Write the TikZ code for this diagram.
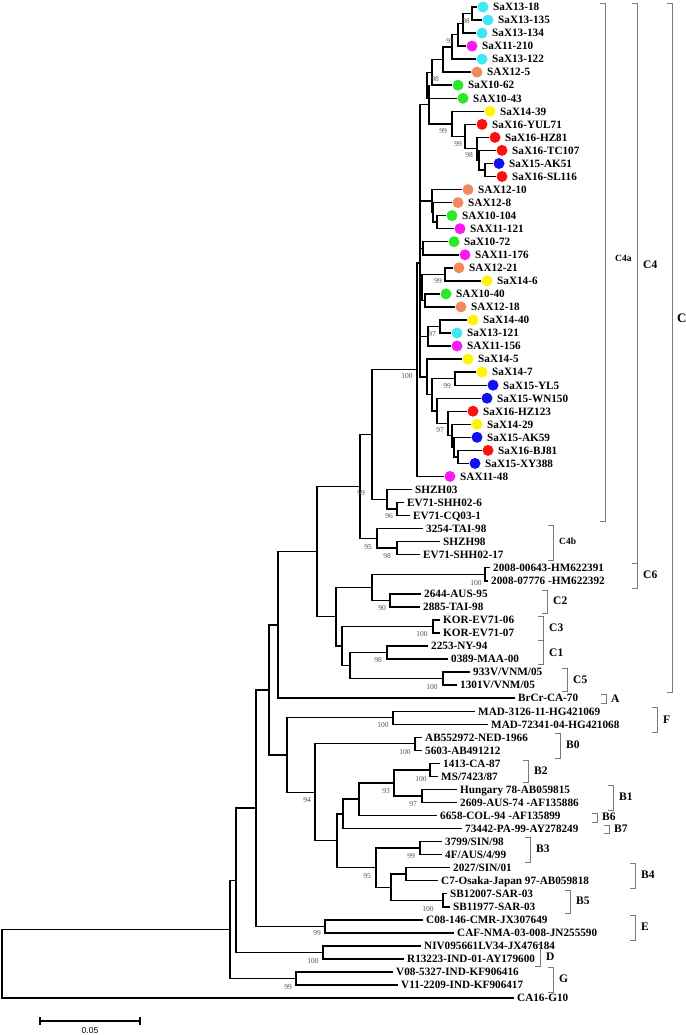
\documentclass[tikz,border=0pt]{standalone}
\usepackage{fontspec}
\setmainfont{Liberation Serif}
\newfontfamily\sbfont{Liberation Sans}
\usetikzlibrary{calc}
\definecolor{cyn}{HTML}{3FE6F5}
\definecolor{mag}{HTML}{F81CF0}
\definecolor{org}{HTML}{F4895F}
\definecolor{grn}{HTML}{2BE82B}
\definecolor{yel}{HTML}{FFF500}
\definecolor{rd}{HTML}{FF1010}
\definecolor{blu}{HTML}{1010F0}
\definecolor{brkgray}{HTML}{7A7A7A}
\definecolor{bsgray}{HTML}{505050}
\tikzset{
  br/.style={line width=1.4pt, black, line join=miter},
  brk/.style={line width=0.9pt, brkgray},
  lab/.style={anchor=base west, inner sep=0pt, yshift=-3.8pt, font=\fontsize{11.2}{13}\selectfont\bfseries},
  boot/.style={inner sep=0pt, font=\fontsize{7.5}{8}\selectfont, text=bsgray},
  leafdot/.style={circle, inner sep=0pt, minimum size=11pt, draw=none},
  clab/.style={anchor=west, inner sep=0pt, font=\fontsize{11.5}{13}\selectfont\bfseries},
  clabs/.style={anchor=west, inner sep=0pt, font=\fontsize{9.5}{11}\selectfont\bfseries},
}
\newcommand\dleaf[5]{%
  \coordinate (#1) at (#2,#3);
  \node[leafdot,fill=#4] (#1d) at ([xshift=6pt]#1) {};
  \node[lab] (#1t) at ([xshift=10pt]#1d.center) {#5};}
\newcommand\pleaf[4]{%
  \coordinate (#1) at (#2,#3);
  \node[lab] (#1t) at ([xshift=3pt]#1) {#4};}
\newcommand\inode[4]{%
  \coordinate (#1m) at ($(#3)!0.5!(#4)$);
  \coordinate (#1) at (#2,0 |- #1m);
  \draw[br] (#3) -| (#1) |- (#4);}
\newcommand\clade[7]{%
  \coordinate (#1a) at (#2,#3);
  \coordinate (#1b) at (#2,#4);
  \draw[brk] ([xshift=-5pt]#1a) -- (#1a) -- (#1b) -- ([xshift=-5pt]#1b);
  \node[#7] (#1l) at (#5) {#6};}
\begin{document}
\begin{tikzpicture}[x=1pt,y=-1pt]
\useasboundingbox (0,0) rectangle (685,1035);
% ---- leaves with dots
\dleaf{l1}{477}{7.0}{cyn}{SaX13-18}
\dleaf{l2}{482}{20.0}{cyn}{SaX13-135}
\dleaf{l3}{476}{33.1}{cyn}{SaX13-134}
\dleaf{l4}{466}{46.1}{mag}{SaX11-210}
\dleaf{l5}{476}{59.2}{cyn}{SaX13-122}
\dleaf{l6}{471}{72.2}{org}{SAX12-5}
\dleaf{l7}{452}{85.2}{grn}{SaX10-62}
\dleaf{l8}{457}{98.3}{grn}{SAX10-43}
\dleaf{l9}{484}{111.3}{yel}{SaX14-39}
\dleaf{l10}{476}{124.4}{rd}{SaX16-YUL71}
\dleaf{l11}{489}{137.4}{rd}{SaX16-HZ81}
\dleaf{l12}{496}{150.4}{rd}{SaX16-TC107}
\dleaf{l13}{493}{163.5}{blu}{SaX15-AK51}
\dleaf{l14}{496}{176.5}{rd}{SaX16-SL116}
\dleaf{l15}{462}{189.6}{org}{SAX12-10}
\dleaf{l16}{452}{202.6}{org}{SAX12-8}
\dleaf{l17}{446}{215.6}{grn}{SAX10-104}
\dleaf{l18}{454}{228.7}{mag}{SAX11-121}
\dleaf{l19}{448}{241.7}{grn}{SaX10-72}
\dleaf{l20}{459}{254.8}{mag}{SAX11-176}
\dleaf{l21}{453}{267.8}{org}{SAX12-21}
\dleaf{l22}{481}{280.8}{yel}{SaX14-6}
\dleaf{l23}{440}{293.9}{grn}{SAX10-40}
\dleaf{l24}{455}{306.9}{org}{SAX12-18}
\dleaf{l25}{467}{320.0}{yel}{SaX14-40}
\dleaf{l26}{451}{333.0}{cyn}{SaX13-121}
\dleaf{l27}{451}{346.0}{mag}{SAX11-156}
\dleaf{l28}{462}{359.1}{yel}{SaX14-5}
\dleaf{l29}{476}{372.1}{yel}{SaX14-7}
\dleaf{l30}{487}{385.2}{blu}{SaX15-YL5}
\dleaf{l31}{481}{398.2}{blu}{SaX15-WN150}
\dleaf{l32}{467}{411.2}{rd}{SaX16-HZ123}
\dleaf{l33}{471}{424.3}{yel}{SaX14-29}
\dleaf{l34}{471}{437.3}{blu}{SaX15-AK59}
\dleaf{l35}{482}{450.4}{rd}{SaX16-BJ81}
\dleaf{l36}{469}{463.4}{blu}{SaX15-XY388}
\dleaf{l37}{444}{476.4}{mag}{SAX11-48}
% ---- plain leaves
\pleaf{l38}{412}{489.5}{SHZH03}
\pleaf{l39}{404}{502.5}{EV71-SHH02-6}
\pleaf{l40}{410}{515.6}{EV71-CQ03-1}
\pleaf{l41}{423}{528.6}{3254-TAI-98}
\pleaf{l42}{440}{541.6}{SHZH98}
\pleaf{l43}{420}{554.7}{EV71-SHH02-17}
\pleaf{l44}{490}{567.7}{2008-00643-HM622391}
\pleaf{l45}{488}{580.8}{2008-07776 -HM622392}
\pleaf{l46}{421}{593.8}{2644-AUS-95}
\pleaf{l47}{420}{606.8}{2885-TAI-98}
\pleaf{l48}{440}{619.9}{KOR-EV71-06}
\pleaf{l49}{440}{632.9}{KOR-EV71-07}
\pleaf{l50}{428}{646.0}{2253-NY-94}
\pleaf{l51}{448}{659.0}{0389-MAA-00}
\pleaf{l52}{470}{672.0}{933V/VNM/05}
\pleaf{l53}{457}{685.1}{1301V/VNM/05}
\pleaf{l54}{515}{698.1}{BrCr-CA-70}
\pleaf{l55}{475}{711.2}{MAD-3126-11-HG421069}
\pleaf{l56}{488}{724.2}{MAD-72341-04-HG421068}
\pleaf{l57}{422}{737.2}{AB552972-NED-1966}
\pleaf{l58}{422}{750.3}{5603-AB491212}
\pleaf{l59}{440}{763.3}{1413-CA-87}
\pleaf{l60}{438}{776.4}{MS/7423/87}
\pleaf{l61}{457}{789.4}{Hungary 78-AB059815}
\pleaf{l62}{457}{802.4}{2609-AUS-74 -AF135886}
\pleaf{l63}{437}{815.5}{6658-COL-94 -AF135899}
\pleaf{l64}{462}{828.5}{73442-PA-99-AY278249}
\pleaf{l65}{442}{841.6}{3799/SIN/98}
\pleaf{l66}{442}{854.6}{4F/AUS/4/99}
\pleaf{l67}{450}{867.6}{2027/SIN/01}
\pleaf{l68}{438}{880.7}{C7-Osaka-Japan 97-AB059818}
\pleaf{l69}{447}{893.7}{SB12007-SAR-03}
\pleaf{l70}{450}{906.8}{SB11977-SAR-03}
\pleaf{l71}{423}{919.8}{C08-146-CMR-JX307649}
\pleaf{l72}{454}{932.8}{CAF-NMA-03-008-JN255590}
\pleaf{l73}{421}{945.9}{NIV095661LV34-JX476184}
\pleaf{l74}{404}{958.9}{R13223-IND-01-AY179600}
\pleaf{l75}{393}{972.0}{V08-5327-IND-KF906416}
\pleaf{l76}{398}{985.0}{V11-2209-IND-KF906417}
\pleaf{l77}{514}{998.0}{CA16-G10}
% ---- internal nodes (C4a)
\inode{nA}{472}{l1}{l2}
\inode{nB}{463}{nA}{l3}
\inode{nC}{458}{nB}{l4}
\inode{nD}{452}{nC}{l5}
\inode{nE}{443}{nD}{l6}
\inode{nF}{432}{nE}{l7}
\inode{nG}{427}{nF}{l8}
\inode{nN5}{485}{l13}{l14}
\inode{nN4}{479}{l12}{nN5}
\inode{nN3}{477}{l11}{nN4}
\inode{nN2}{465}{l10}{nN3}
\inode{nN1}{452}{l9}{nN2}
\inode{nH}{429}{nG}{nN1}
\inode{nJ}{437}{l17}{l18}
\inode{nK}{433}{l16}{nJ}
\inode{nL}{432}{l15}{nK}
\inode{nM}{423}{l19}{l20}
\inode{nP}{445}{l21}{l22}
\inode{nQ}{425}{l23}{l24}
\inode{nPQ}{422}{nP}{nQ}
\inode{nR}{440}{l25}{l26}
\inode{nS}{428}{nR}{l27}
\inode{nZ}{458}{l35}{l36}
\inode{nY}{454}{l34}{nZ}
\inode{nX}{452}{l33}{nY}
\inode{nW}{448}{l32}{nX}
\inode{nV}{437}{l31}{nW}
\inode{nU}{455}{l29}{l30}
\inode{nUV}{432}{nU}{nV}
\inode{nT}{427}{l28}{nUV}
\coordinate (core) at (420,263);
\draw[br] (nH) -| (core) |- (nT);
\draw[br] (core) |- (nL);
\draw[br] (core) |- (nM);
\draw[br] (core) |- (nPQ);
\draw[br] (core) |- (nS);
\inode{nC4a}{417}{core}{l37}
\inode{nSH}{397}{l39}{l40}
\inode{nSHZ}{387}{l38}{nSH}
\inode{nC4i}{372}{nC4a}{nSHZ}
\inode{nC4bb}{397}{l42}{l43}
\inode{nC4b}{377}{l41}{nC4bb}
\inode{nC4}{360}{nC4i}{nC4b}
\inode{nC6}{485}{l44}{l45}
\inode{nC2}{390}{l46}{l47}
\inode{nC62}{372}{nC6}{nC2}
\inode{nC3}{433}{l48}{l49}
\inode{nC1}{387}{l50}{l51}
\inode{nC5}{443}{l52}{l53}
\inode{nC15}{350}{nC1}{nC5}
\inode{nC315}{342}{nC3}{nC15}
\inode{nCm}{336}{nC62}{nC315}
\inode{nT317}{317}{nC4}{nCm}
\inode{nCC}{278}{nT317}{l54}
\inode{nFF}{393}{l55}{l56}
\inode{nB0}{415}{l57}{l58}
\inode{nB2}{430}{l59}{l60}
\inode{nB1}{422}{l61}{l62}
\inode{nB21}{394}{nB2}{nB1}
\inode{nT359}{359}{nB21}{l63}
\inode{nT343}{343}{nT359}{l64}
\inode{nB3}{420}{l65}{l66}
\inode{nB4}{406}{l67}{l68}
\inode{nB5}{443}{l69}{l70}
\inode{nB45}{391}{nB4}{nB5}
\inode{nT376}{376}{nB3}{nB45}
\inode{nT337}{337}{nT343}{nT376}
\inode{nT315}{315}{nB0}{nT337}
\inode{nT287}{287}{nFF}{nT315}
\inode{nT269}{269}{nCC}{nT287}
\inode{nEE}{325}{l71}{l72}
\inode{nT256}{256}{nT269}{nEE}
\inode{nDD}{323}{l73}{l74}
\inode{nT236}{236}{nT256}{nDD}
\inode{nGG}{296}{l75}{l76}
\inode{nT230}{230}{nT236}{nGG}
\inode{root}{2}{nT230}{l77}
% ---- bootstrap values
\node[boot] (b1) at (466,21.5) {98};
\node[boot] (b2) at (450,41) {92};
\node[boot] (b3) at (435,79) {98};
\node[boot] (b4) at (443,131) {99};
\node[boot] (b5) at (458,144) {99};
\node[boot] (b6) at (469,155) {98};
\node[boot] (b7) at (438,281) {99};
\node[boot] (b8) at (432,334) {97};
\node[boot] (b9) at (407,376) {100};
\node[boot] (b10) at (447,386) {99};
\node[boot] (b11) at (440,430) {97};
\node[boot] (b12) at (361,493) {99};
\node[boot] (b13) at (389,516) {96};
\node[boot] (b14) at (368,547) {95};
\node[boot] (b15) at (387,556) {98};
\node[boot] (b16) at (476,583) {100};
\node[boot] (b17) at (382,608) {90};
\node[boot] (b18) at (422,634) {100};
\node[boot] (b19) at (378,660) {98};
\node[boot] (b20) at (432,687) {100};
\node[boot] (b21) at (383,725) {100};
\node[boot] (b22) at (405,752) {100};
\node[boot] (b23) at (421,779) {100};
\node[boot] (b24) at (386,791) {93};
\node[boot] (b25) at (413,804) {97};
\node[boot] (b26) at (307,800) {94};
\node[boot] (b27) at (411,856) {99};
\node[boot] (b28) at (367,876) {95};
\node[boot] (b29) at (428,909) {100};
\node[boot] (b30) at (317,933) {99};
\node[boot] (b31) at (313,961) {100};
\node[boot] (b32) at (288,987) {99};
% ---- clade brackets
\clade{kC4a}{605}{3}{521}{615,258}{C4a}{clabs}
\clade{kC4}{637}{3}{563}{643,265}{C4}{clab}
\clade{kC}{672}{3}{692}{677,318}{C}{clab,font=\fontsize{13}{15}\selectfont\bfseries}
\clade{kC4b}{553}{525}{560}{559,541}{C4b}{clabs}
\clade{kC6}{637}{563}{588}{643,575}{C6}{clab}
\clade{kC2}{547}{590}{613}{553,601}{C2}{clab}
\clade{kC3}{543}{616}{640}{549,628}{C3}{clab}
\clade{kC1}{543}{640}{664}{549,653}{C1}{clab}
\clade{kC5}{567}{668}{691}{573,680}{C5}{clab}
\clade{kA}{606}{694}{703}{611,699}{A}{clab}
\clade{kF}{657}{707}{732}{663,720}{F}{clab}
\clade{kB0}{560}{733}{758}{566,745}{B0}{clab}
\clade{kB2}{528}{760}{782}{534,771}{B2}{clab}
\clade{kB1}{613}{785}{810}{619,797}{B1}{clab}
\clade{kB6}{597}{813}{822}{602,817}{B6}{clab}
\clade{kB7}{609}{825}{833}{614,829}{B7}{clab}
\clade{kB3}{530}{837}{862}{536,849}{B3}{clab}
\clade{kB4}{635}{863}{888}{641,875}{B4}{clab}
\clade{kB5}{570}{890}{913}{576,901}{B5}{clab}
\clade{kE}{635}{915}{940}{641,927}{E}{clab}
\clade{kD}{540}{944}{966}{546,957}{D}{clab}
\clade{kG}{553}{967}{992}{559,979}{G}{clab}
% ---- scale bar
\coordinate (sbl) at (40,1021);
\coordinate (sbr) at (140,1021);
\draw[line width=1.3pt] (sbl) -- (sbr);
\draw[line width=1.3pt] ([yshift=-4pt]sbl) -- ([yshift=4pt]sbl);
\draw[line width=1.3pt] ([yshift=-4pt]sbr) -- ([yshift=4pt]sbr);
\node[inner sep=0pt, font=\sbfont\fontsize{8.5}{9}\selectfont] (sbt) at (90,1031) {0.05};
\end{tikzpicture}
\end{document}
